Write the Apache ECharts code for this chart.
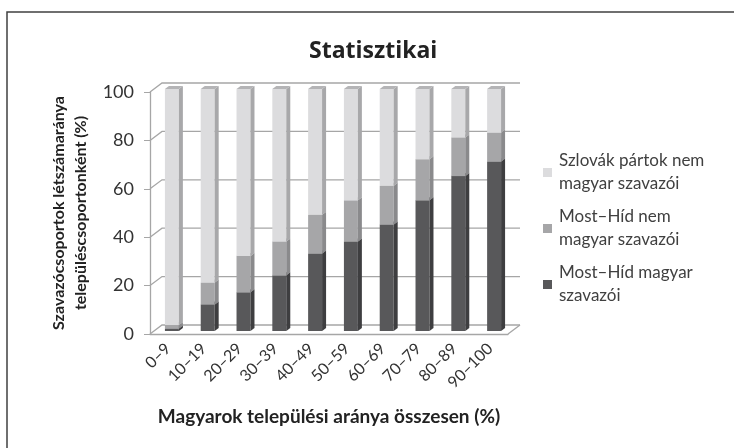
<!DOCTYPE html>
<html>
<head>
<meta charset="utf-8">
<script src="https://cdn.jsdelivr.net/npm/echarts@6/dist/echarts.min.js"></script>
<style>
html, body { margin: 0; padding: 0; background: #fff; }
#chart { width: 734px; height: 448px; }
</style>
</head>
<body>
<div id="chart"></div>
<script>
// kategóriák és értékek
var categories = ['0–9', '10–19', '20–29', '30–39', '40–49', '50–59', '60–69', '70–79', '80–89', '90–100'];
var mhMagyar = [1, 11, 16, 23, 32, 37, 44, 54, 64, 70];
var mhNemMagyar = [1.5, 9, 15, 14, 16, 17, 16, 17, 16, 12];
var szlovakNem = [97.5, 80, 69, 63, 52, 46, 40, 29, 20, 18];
var yTicks = [0, 20, 40, 60, 80, 100];

var seriesNames = ['Most–Híd magyar\nszavazói', 'Most–Híd nem\nmagyar szavazói', 'Szlovák pártok nem\nmagyar szavazói'];

// 3D hatás eltolásai
var DX = 4, DY = -3;      // oszlop mélység
var WX = 12, WY = -9;     // hátsó fal

// halmozott adatok: [index, alsó, felső]
var buildStack = function(values, below){
    var rows = [];
    for (var i = 0; i < values.length; i++){
        var lo = 0;
        for (var k = 0; k < below.length; k++){ lo += below[k][i]; }
        rows.push([i, lo, lo + values[i]]);
    }
    return rows;
};

var makeBox = function(frontC, sideC, topC){
    return function(params, api){
        var i = api.value(0), lo = api.value(1), hi = api.value(2);
        var p0 = api.coord([i, lo]);
        var p1 = api.coord([i, hi]);
        var bw = api.size([1, 0])[0] * 0.39;
        var xl = p0[0] - bw / 2 + 4, xr = xl + bw;
        var yb = p0[1] - 3, yt = p1[1] - 3;
        return {
            type: 'group',
            children: [
                { type: 'rect', shape: { x: xl, y: yt, width: bw, height: yb - yt }, style: { fill: frontC } },
                { type: 'polygon', shape: { points: [[xr, yt], [xr + DX, yt + DY], [xr + DX, yb + DY], [xr, yb]] }, style: { fill: sideC } },
                { type: 'polygon', shape: { points: [[xl, yt], [xl + DX, yt + DY], [xr + DX, yt + DY], [xr, yt]] }, style: { fill: topC } }
            ]
        };
    };
};

// fal + padló + rácsvonalak
var renderWalls = function(params, api){
    var half = api.size([1, 0])[0] / 2;
    var xl = api.coord([0, 0])[0] - half;
    var xr = api.coord([categories.length - 1, 0])[0] + half;
    var children = [];
    for (var t = 0; t < yTicks.length; t++){
        var y = api.coord([0, yTicks[t]])[1];
        children.push({
            type: 'polyline',
            shape: { points: [[xl, y], [xl + WX, y + WY], [xr + WX, y + WY]] },
            style: { stroke: '#a6a6a6', lineWidth: 1.3, fill: null }
        });
    }
    var y0 = api.coord([0, 0])[1];
    children.push({
        type: 'polyline',
        shape: { points: [[xr, y0], [xr + WX, y0 + WY]] },
        style: { stroke: '#a6a6a6', lineWidth: 1.3, fill: null }
    });
    return { type: 'group', children: children };
};

var chart = echarts.init(document.getElementById('chart'));
var font = 'Lato, "Open Sans", sans-serif';

chart.setOption({
    animation: false,
    textStyle: { fontFamily: font },
    graphic: [{
        type: 'rect',
        shape: { x: 7, y: 12, width: 740, height: 460 },
        style: { fill: null, stroke: '#404040', lineWidth: 1.5 },
        silent: true
    }],
    title: {
        text: 'Statisztikai',
        left: 304,
        top: 35,
        textStyle: { fontFamily: '"Open Sans", sans-serif', fontSize: 23, fontWeight: 'bold', color: '#222' }
    },
    legend: {
        orient: 'vertical',
        left: 538,
        top: 133,
        itemWidth: 9,
        itemHeight: 9,
        itemGap: -13,
        icon: 'rect',
        data: [seriesNames[2], seriesNames[1], seriesNames[0]],
        textStyle: { fontFamily: font, fontSize: 17, color: '#404040', lineHeight: 23, padding: [23, 0, 0, 2] }
    },
    grid: { left: 150, right: 226, top: 92, bottom: 114 },
    xAxis: {
        type: 'category',
        data: categories,
        name: 'Magyarok települési aránya összesen (%)',
        nameLocation: 'middle',
        nameGap: 73,
        nameTextStyle: { fontFamily: font, fontSize: 19, fontWeight: 'bold', color: '#222' },
        axisLine: { lineStyle: { color: '#a6a6a6', width: 1.3 } },
        axisTick: { length: 5, lineStyle: { color: '#a6a6a6' } },
        axisLabel: { rotate: 45, interval: 0, margin: 12, fontSize: 16, color: '#333', fontFamily: font }
    },
    yAxis: {
        type: 'value',
        min: 0,
        max: 100,
        interval: 20,
        name: 'Szavazócsoportok létszámaránya\ntelepüléscsoportonként (%)',
        nameLocation: 'middle',
        nameRotate: 90,
        nameGap: 58,
        nameTextStyle: { fontFamily: font, fontSize: 16, fontWeight: 'bold', color: '#222', lineHeight: 22 },
        axisLine: { show: true, lineStyle: { color: '#a6a6a6', width: 1.3 } },
        axisTick: { show: true, length: 6, lineStyle: { color: '#a6a6a6' } },
        axisLabel: { margin: 16, fontSize: 18, color: '#333', fontFamily: font },
        splitLine: { show: false }
    },
    series: [
        {
            type: 'custom',
            name: 'walls',
            silent: true,
            z: 1,
            renderItem: renderWalls,
            data: [[0, 0]]
        },
        {
            type: 'custom',
            name: seriesNames[0],
            z: 2,
            itemStyle: { color: '#58585a' },
            renderItem: makeBox('#58585a', '#3e3e40', '#6c6c6e'),
            encode: { x: 0, y: [1, 2] },
            data: buildStack(mhMagyar, [])
        },
        {
            type: 'custom',
            name: seriesNames[1],
            z: 3,
            itemStyle: { color: '#a6a6a8' },
            renderItem: makeBox('#a6a6a8', '#8a8a8c', '#b8b8ba'),
            encode: { x: 0, y: [1, 2] },
            data: buildStack(mhNemMagyar, [mhMagyar])
        },
        {
            type: 'custom',
            name: seriesNames[2],
            z: 4,
            itemStyle: { color: '#dcdcde' },
            renderItem: makeBox('#dcdcde', '#a8a8aa', '#b4b4b6'),
            encode: { x: 0, y: [1, 2] },
            data: buildStack(szlovakNem, [mhMagyar, mhNemMagyar])
        }
    ]
});
</script>
</body>
</html>
